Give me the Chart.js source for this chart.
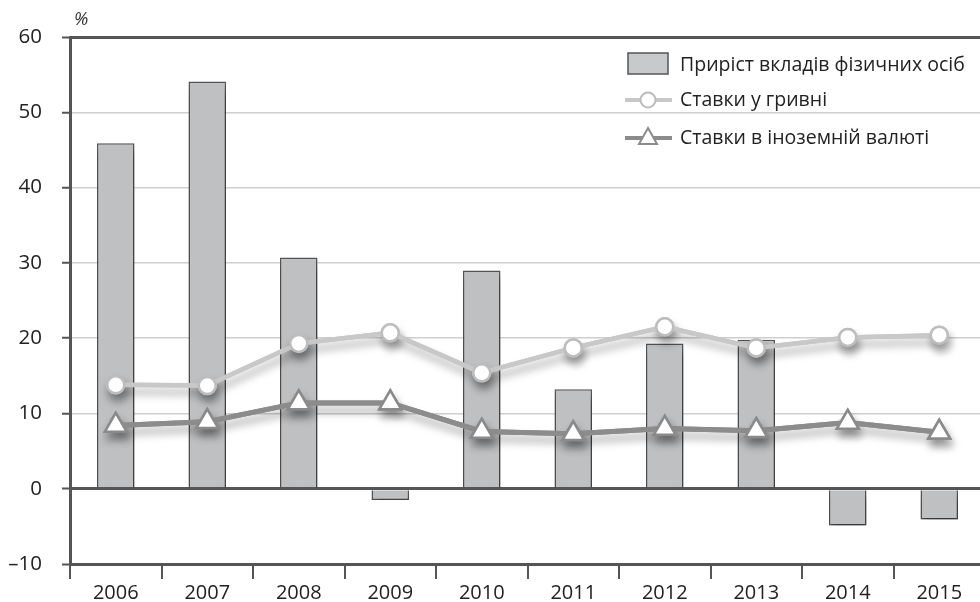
<!DOCTYPE html>
<html lang="uk">
<head>
    <meta charset="UTF-8">
    <title>Приріст вкладів і ставки</title>
    <script src="https://cdn.jsdelivr.net/npm/chart.js"></script>
    <style>
        body {
            margin: 0;
            background: #ffffff;
            overflow: hidden;
        }
        .wrap {
            width: 980px;
            height: 602px;
            overflow: hidden;
        }
    </style>
</head>
<body>
    <div class="wrap">
        <canvas id="chart" width="1000" height="602"></canvas>
    </div>

    <script>
        // дані
        const years = ['2006', '2007', '2008', '2009', '2010', '2011', '2012', '2013', '2014', '2015'];
        const depositGrowth = [45.9, 54.1, 30.7, -1.5, 29.0, 13.2, 19.3, 19.8, -4.9, -4.1];
        const rateUah = [13.8, 13.7, 19.3, 20.7, 15.4, 18.7, 21.5, 18.7, 20.1, 20.4];
        const rateForeign = [8.4, 8.9, 11.4, 11.4, 7.6, 7.3, 8.0, 7.7, 8.8, 7.5];
        const yTicks = [-10, 0, 10, 20, 30, 40, 50, 60];

        const labels = {
            bar: 'Приріст вкладів фізичних осіб',
            uah: 'Ставки у гривні',
            foreign: 'Ставки в іноземній валюті'
        };

        const FONT = '"Open Sans", "DejaVu Sans", sans-serif';
        const DARK = '#555555';

        // тіні: тільки для наборів з прапорцем shadow
        const shadowPlugin = {
            id: 'shadow',
            beforeDatasetDraw(chart, args) {
                const ds = chart.data.datasets[args.index];
                if (!ds.shadow) return;
                const ctx = chart.ctx;
                ctx.save();
                ctx.shadowColor = 'rgba(0,0,0,0.35)';
                ctx.shadowBlur = 8;
                ctx.shadowOffsetX = 2;
                ctx.shadowOffsetY = 7;
            },
            afterDatasetDraw(chart, args) {
                const ds = chart.data.datasets[args.index];
                if (ds.shadow) chart.ctx.restore();
            }
        };

        // легенда і підпис %
        const legendPlugin = {
            id: 'customLegend',
            afterDraw(chart) {
                const ctx = chart.ctx;
                ctx.save();
                ctx.font = '19.5px ' + FONT;
                ctx.textBaseline = 'middle';

                // рядок 1 — стовпчик
                ctx.fillStyle = '#c8c9cb';
                ctx.fillRect(628, 53, 40, 21);
                ctx.strokeStyle = DARK;
                ctx.lineWidth = 1.5;
                ctx.strokeRect(628, 53, 40, 21);
                ctx.fillStyle = '#222';
                ctx.fillText(labels.bar, 680, 65);

                // рядок 2 — кола
                ctx.strokeStyle = '#c8c8c8';
                ctx.lineWidth = 4;
                ctx.beginPath();
                ctx.moveTo(625, 100);
                ctx.lineTo(672, 100);
                ctx.stroke();
                ctx.fillStyle = '#fff';
                ctx.strokeStyle = '#bdbdbd';
                ctx.lineWidth = 2;
                ctx.beginPath();
                ctx.arc(648, 100, 7.5, 0, Math.PI * 2);
                ctx.fill();
                ctx.stroke();
                ctx.fillStyle = '#222';
                ctx.fillText(labels.uah, 680, 100);

                // рядок 3 — трикутники
                ctx.strokeStyle = '#8c8c8c';
                ctx.lineWidth = 4;
                ctx.beginPath();
                ctx.moveTo(625, 138);
                ctx.lineTo(672, 138);
                ctx.stroke();
                ctx.fillStyle = '#fff';
                ctx.lineWidth = 2;
                ctx.beginPath();
                ctx.moveTo(648, 128);
                ctx.lineTo(657, 144);
                ctx.lineTo(639, 144);
                ctx.closePath();
                ctx.fill();
                ctx.stroke();
                ctx.fillStyle = '#222';
                ctx.fillText(labels.foreign, 680, 138);

                // одиниці
                ctx.font = 'italic 18px ' + FONT;
                ctx.fillStyle = '#333';
                ctx.fillText('%', 74, 20);
                ctx.restore();
            }
        };

        const foreignStyle = {
            type: 'line',
            data: rateForeign,
            borderColor: '#8c8c8c',
            borderWidth: 5,
            pointStyle: 'triangle',
            pointRadius: 12.5,
            pointBackgroundColor: '#ffffff',
            pointBorderColor: '#8a8a8a',
            pointBorderWidth: 2.5,
            tension: 0
        };
        const uahStyle = {
            type: 'line',
            data: rateUah,
            borderColor: '#c8c8c8',
            borderWidth: 4.5,
            pointStyle: 'circle',
            pointRadius: 8.5,
            pointBackgroundColor: '#ffffff',
            pointBorderColor: '#bdbdbd',
            pointBorderWidth: 2.5,
            tension: 0
        };

        new Chart(document.getElementById('chart'), {
            data: {
                labels: years,
                datasets: [
                    Object.assign({}, foreignStyle, { label: labels.foreign, order: 1 }),
                    Object.assign({}, uahStyle, { label: labels.uah, order: 2 }),
                    // копії ліній лише для тіні під ними
                    Object.assign({}, foreignStyle, { label: 'shadow-f', order: 3, shadow: true }),
                    Object.assign({}, uahStyle, { label: 'shadow-u', order: 4, shadow: true }),
                    {
                        type: 'bar',
                        label: labels.bar,
                        data: depositGrowth,
                        backgroundColor: '#bfc0c2',
                        borderColor: DARK,
                        borderWidth: 1.5,
                        categoryPercentage: 1,
                        barPercentage: 0.41,
                        order: 5,
                        shadow: true
                    }
                ]
            },
            options: {
                responsive: false,
                animation: false,
                layout: {
                    padding: { top: 37, right: 10, left: 0, bottom: 0 }
                },
                plugins: {
                    legend: { display: false },
                    tooltip: { enabled: false }
                },
                scales: {
                    x: {
                        offset: true,
                        grid: {
                            offset: true,
                            drawOnChartArea: false,
                            color: DARK,
                            lineWidth: 2,
                            tickLength: 15
                        },
                        border: { display: false },
                        ticks: {
                            color: '#222',
                            font: { family: FONT, size: 20 },
                            padding: 2,
                            maxRotation: 0
                        },
                        afterFit(scale) {
                            scale.height = 38;
                        }
                    },
                    y: {
                        min: -10,
                        max: 60,
                        afterBuildTicks(scale) {
                            scale.ticks = yTicks.map(v => ({ value: v }));
                        },
                        grid: {
                            color: ctx => {
                                const v = ctx.tick.value;
                                return (v === 0 || v === 60 || v === -10) ? DARK : '#cfcfcf';
                            },
                            lineWidth: ctx => {
                                const v = ctx.tick.value;
                                return (v === 0 || v === 60 || v === -10) ? 3 : 1.5;
                            },
                            tickColor: DARK,
                            tickWidth: 2,
                            tickLength: 8
                        },
                        border: { color: DARK, width: 3 },
                        ticks: {
                            color: '#222',
                            font: { family: FONT, size: 20.5 },
                            padding: 20,
                            callback: v => (v < 0 ? '\u2013' + Math.abs(v) : String(v))
                        },
                        afterFit(scale) {
                            scale.width = 70;
                        }
                    }
                }
            },
            plugins: [shadowPlugin, legendPlugin]
        });
    </script>
</body>
</html>
